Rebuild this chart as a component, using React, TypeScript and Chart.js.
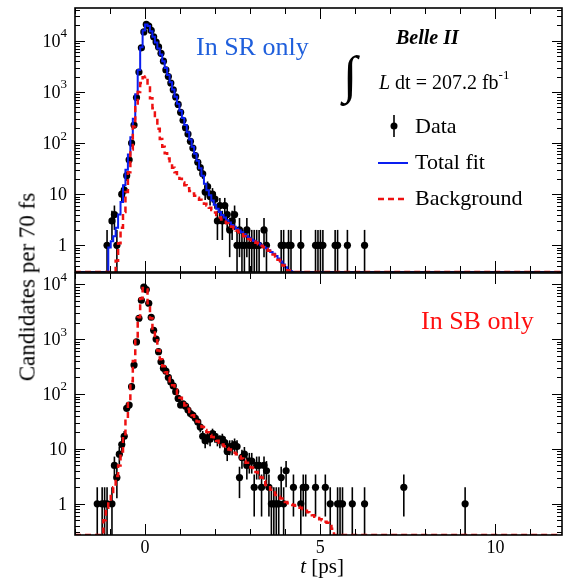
import React, { useEffect, useRef } from "react";
import { Chart, registerables } from "chart.js";
Chart.register(...registerables);

const SERIF = "'Liberation Serif', 'DejaVu Serif', serif";
const FIT_BLUE = "#0a1ef0";
const BKG_RED = "#ee1111";
const SR_BLUE = "#1f5fdc";
const SB_RED = "#ff1010";

// ---------- Signal region (top panel) ----------
const srT = [
  -1.085, -0.945, -0.875, -0.805, -0.665, -0.595, -0.525, -0.455, -0.385, -0.315, -0.245, -0.175,
  -0.105, -0.035, 0.035, 0.105, 0.175, 0.245, 0.315, 0.385, 0.455, 0.525, 0.595, 0.665, 0.735,
  0.805, 0.875, 0.945, 1.015, 1.085, 1.155, 1.225, 1.295, 1.365, 1.435, 1.505, 1.575, 1.645,
  1.715, 1.785, 1.855, 1.925, 1.995, 2.065, 2.135, 2.205, 2.275, 2.345, 2.415, 2.485, 2.555,
  2.625, 2.695, 2.765, 2.835, 2.905, 2.975, 3.045, 3.115, 3.185, 3.255, 3.395, 3.465, 3.885,
  3.955, 4.095, 4.165, 4.445, 4.865, 4.935, 5.005, 5.075, 5.425, 5.495, 5.775, 6.265,
];
const srN = [
  1, 3, 4, 1, 10, 12, 23, 47, 100, 225, 780, 2450,
  7300, 15000, 21000, 19500, 16000, 12000, 9500, 7600, 5700, 4000, 2700, 2000, 1500,
  1100, 800, 570, 400, 280, 200, 150, 108, 80, 57, 42, 33, 25,
  11, 14, 9, 10, 8, 3, 6, 3, 6, 4, 2, 3, 4,
  1, 2, 1, 1, 2, 1, 1, 1, 1, 1, 2, 1, 1,
  1, 1, 1, 1, 1, 1, 1, 1, 1, 1, 1, 1,
];
const srFitT = [
  -2, -1.155, -1.085, -1.015, -0.945, -0.875, -0.805, -0.735, -0.665, -0.595, -0.525, -0.455,
  -0.385, -0.315, -0.245, -0.175, -0.105, -0.035, 0.035, 0.105, 0.175, 0.245, 0.315, 0.385,
  0.455, 0.525, 0.595, 0.665, 0.735, 0.805, 0.875, 0.945, 1.015, 1.085, 1.155, 1.225, 1.295,
  1.365, 1.435, 1.505, 1.575, 1.645, 1.715, 1.785, 1.855, 1.925, 1.995, 2.065, 2.135, 2.205,
  2.275, 2.345, 2.415, 2.485, 2.555, 2.625, 2.695, 2.765, 2.835, 2.905, 2.975, 3.045, 3.115,
  3.185, 3.255, 3.325, 3.395, 3.465, 3.535, 3.605, 3.675, 3.745, 3.815, 3.885, 3.955, 4.025,
  4.095, 4.165, 4.235, 11.9,
];
const srTotal = [
  0.3, 0.3, 0.3, 0.9, 1.2, 1.5, 2.2, 4, 7, 15, 30, 60,
  130, 300, 900, 2700, 7500, 16000, 21000, 19500, 15500, 12000, 9300, 7100,
  5400, 4000, 2950, 2150, 1550, 1120, 810, 590, 430, 310, 225, 162, 117,
  85, 62, 45, 32, 23, 16, 12, 9.5, 7.5, 6.2, 5.2, 4.5, 3.9,
  3.5, 3.1, 2.8, 2.5, 2.3, 2.1, 1.95, 1.8, 1.65, 1.5, 1.4, 1.3, 1.22,
  1.15, 1.08, 1.0, 0.94, 0.87, 0.8, 0.74, 0.68, 0.62, 0.55, 0.48, 0.42, 0.37,
  0.33, 0.31, 0.3, 0.3,
];
const srBkg = [
  0.3, 0.3, 0.3, 0.3, 0.3, 0.3, 0.5, 1.1, 2.2, 4.5, 11, 27,
  75, 210, 500, 1000, 1500, 1950, 2000, 1300, 750, 480, 300, 190,
  120, 85, 63, 50, 40, 33, 27, 23, 20, 17, 15, 13, 11.5,
  10.3, 9.3, 8.5, 7.8, 7.1, 6.5, 6, 5.4, 4.9, 4.4, 3.9, 3.5, 3.2,
  2.9, 2.7, 2.5, 2.3, 2.1, 1.95, 1.8, 1.65, 1.5, 1.42, 1.33, 1.25, 1.18,
  1.12, 1.05, 0.98, 0.92, 0.85, 0.78, 0.72, 0.66, 0.6, 0.52, 0.46, 0.4, 0.36,
  0.32, 0.3, 0.3, 0.3,
];

// ---------- Sideband (bottom panel) ----------
const sbT = [
  -1.365, -1.225, -1.155, -1.085, -0.945, -0.875, -0.805, -0.735, -0.665, -0.595, -0.525, -0.455,
  -0.385, -0.315, -0.245, -0.175, -0.105, -0.035, 0.035, 0.105, 0.175, 0.245, 0.315, 0.385,
  0.455, 0.525, 0.595, 0.665, 0.735, 0.805, 0.875, 0.945, 1.015, 1.085, 1.155, 1.225, 1.295,
  1.365, 1.435, 1.505, 1.575, 1.645, 1.715, 1.785, 1.855, 1.925, 1.995, 2.065, 2.135, 2.205,
  2.275, 2.345, 2.415, 2.485, 2.555, 2.625, 2.695, 2.765, 2.835, 2.905, 2.975, 3.045, 3.115,
  3.185, 3.255, 3.325, 3.395, 3.465, 3.535, 3.605, 3.675, 3.745, 3.815, 3.885, 3.955, 4.025,
  4.235, 4.445, 4.515, 4.585, 4.865, 5.145, 5.285, 5.495, 5.565, 5.635, 5.915, 6.265, 7.385, 9.135,
];
const sbN = [
  1, 1, 1, 1, 1, 5, 3, 8, 12, 17, 55, 63,
  136, 337, 890, 2400, 5100, 8900, 8000, 4500, 2500, 1450, 1000, 590,
  385, 295, 260, 200, 165, 140, 110, 83, 63, 66, 60, 51, 44,
  41, 36, 31, 25, 17, 14, 16, 15, 19, 17, 15, 14, 15,
  13, 9, 11, 11, 12, 11, 3, 7, 8, 5, 6, 6, 2,
  5, 5, 2, 5, 4, 2, 1, 1, 1, 1, 3, 1, 4,
  2, 1, 2, 2, 2, 2, 1, 1, 1, 1, 1, 1, 2, 1,
];
const sbFitT = [
  -2, -1.225, -1.155, -1.085, -1.015, -0.945, -0.875, -0.805, -0.735, -0.665, -0.595, -0.525,
  -0.455, -0.385, -0.315, -0.245, -0.175, -0.105, -0.035, 0.035, 0.105, 0.175, 0.245, 0.315,
  0.385, 0.455, 0.525, 0.595, 0.665, 0.735, 0.805, 0.875, 0.945, 1.015, 1.085, 1.155, 1.225,
  1.295, 1.365, 1.435, 1.505, 1.575, 1.645, 1.715, 1.785, 1.855, 1.925, 1.995, 2.065, 2.135,
  2.205, 2.275, 2.345, 2.415, 2.485, 2.555, 2.625, 2.695, 2.765, 2.835, 2.905, 2.975, 3.045,
  3.115, 3.185, 3.255, 3.325, 3.395, 3.465, 3.535, 3.605, 3.675, 3.745, 3.815, 3.885, 3.955,
  4.025, 4.095, 4.165, 4.235, 4.305, 4.375, 4.445, 4.515, 4.585, 4.655, 4.725, 4.795, 4.865,
  4.935, 5.005, 5.075, 5.145, 5.215, 5.285, 5.355, 5.425, 11.9,
];
const sbFit = [
  0.27, 0.27, 0.5, 0.85, 1.1, 1.5, 2.0, 3.2, 5, 9, 17, 35,
  75, 170, 400, 1000, 2500, 5500, 8500, 8000, 4500, 2400, 1450, 950,
  620, 430, 320, 250, 205, 170, 145, 120, 100, 85, 72, 62, 54,
  47, 41, 36, 31.5, 28, 25, 22, 20, 18, 16.5, 15, 14, 13,
  12, 11.2, 10.4, 9.7, 9, 8.5, 8, 7.3, 6.7, 6.1, 5.6, 5.1, 4.6,
  4.2, 3.8, 3.4, 3.0, 2.6, 2.2, 2.0, 1.8, 1.6, 1.45, 1.35, 1.25, 1.15,
  1.08, 1.02, 0.98, 0.95, 0.92, 0.88, 0.85, 0.8, 0.75, 0.7, 0.66, 0.62, 0.58,
  0.55, 0.52, 0.5, 0.47, 0.45, 0.43, 0.35, 0.27, 0.27,
];

// ---------- Axes ----------
const X_MIN = -2;
const X_MAX = 11.9;
const TOP_Y = [0.3, 44000];
const BOT_Y = [0.27, 16000];
const xTickValues = [-2, -1, 0, 1, 2, 3, 4, 5, 6, 7, 8, 9, 10, 11];
const xTickLabels = ["0", "5", "10"];
const xLabelValues = [0, 5, 10];
const yDecades = [0.1, 1, 10, 100, 1000, 10000];
const yLabelValues = [1, 10, 100, 1000, 10000];
const yLabelBase = ["1", "10", "10", "10", "10"];
const yLabelExp = ["", "", "2", "3", "4"];

const BOT_CANVAS_TOP = 262;

function pts(xs: number[], ys: number[]) {
  return xs.map((x, i) => ({ x, y: ys[i] }));
}

function drawErrorBars(chart: any) {
  const ctx = chart.ctx;
  const area = chart.chartArea;
  const ys = chart.scales.y;
  chart.data.datasets.forEach((ds: any, di: number) => {
    if (ds.label !== "Data") return;
    const meta = chart.getDatasetMeta(di);
    ctx.save();
    ctx.strokeStyle = "#000";
    ctx.lineWidth = 1.6;
    meta.data.forEach((el: any, i: number) => {
      const v = ds.data[i].y;
      const e = Math.sqrt(v);
      const hi = Math.min(area.bottom, Math.max(area.top, ys.getPixelForValue(v + e)));
      const lo = v - e > ys.min ? ys.getPixelForValue(v - e) : area.bottom;
      ctx.beginPath();
      ctx.moveTo(el.x, hi);
      ctx.lineTo(el.x, lo);
      ctx.stroke();
    });
    ctx.restore();
  });
}

function drawFrame(chart: any, showX: boolean) {
  const ctx = chart.ctx;
  const a = chart.chartArea;
  const xs = chart.scales.x;
  const ys = chart.scales.y;
  ctx.save();
  ctx.strokeStyle = "#000";
  ctx.lineWidth = 1;
  yDecades.forEach((d) => {
    for (let m = 1; m <= 9; m++) {
      const v = d * m;
      if (v < ys.min || v > ys.max) continue;
      const py = Math.round(ys.getPixelForValue(v)) + 0.5;
      const len = m === 1 ? 10 : 5;
      ctx.beginPath();
      ctx.moveTo(a.left, py);
      ctx.lineTo(a.left + len, py);
      ctx.moveTo(a.right, py);
      ctx.lineTo(a.right - len, py);
      ctx.stroke();
    }
  });
  xTickValues.forEach((v) => {
    const px = Math.round(xs.getPixelForValue(v)) + 0.5;
    const len = v % 5 === 0 ? 11 : 6;
    ctx.beginPath();
    ctx.moveTo(px, a.top);
    ctx.lineTo(px, a.top + len);
    ctx.moveTo(px, a.bottom);
    ctx.lineTo(px, a.bottom - len);
    ctx.stroke();
  });
  ctx.lineWidth = 1.6;
  ctx.strokeRect(a.left, a.top, a.right - a.left, a.bottom - a.top);

  ctx.fillStyle = "#000";
  ctx.textBaseline = "middle";
  yLabelValues.forEach((v, i) => {
    if (v < ys.min || v > ys.max) return;
    const py = ys.getPixelForValue(v);
    const right = a.left - 8;
    ctx.font = `13px ${SERIF}`;
    const ew = yLabelExp[i] ? ctx.measureText(yLabelExp[i]).width : 0;
    ctx.textAlign = "left";
    if (yLabelExp[i]) ctx.fillText(yLabelExp[i], right - ew, py - 7);
    ctx.font = `18px ${SERIF}`;
    ctx.textAlign = "right";
    ctx.fillText(yLabelBase[i], right - ew, py + 1);
  });

  if (showX) {
    ctx.font = `18px ${SERIF}`;
    ctx.textAlign = "center";
    xLabelValues.forEach((v, i) => {
      ctx.fillText(xTickLabels[i], xs.getPixelForValue(v), a.bottom + 13);
    });
    ctx.textAlign = "left";
    ctx.font = `italic 21px ${SERIF}`;
    const tw = ctx.measureText("t").width;
    ctx.font = `21px ${SERIF}`;
    const rw = ctx.measureText(" [ps]").width;
    const x0 = 322 - (tw + rw) / 2;
    ctx.font = `italic 21px ${SERIF}`;
    ctx.fillText("t", x0, a.bottom + 32);
    ctx.font = `21px ${SERIF}`;
    ctx.fillText(" [ps]", x0 + tw, a.bottom + 32);
  }
  ctx.restore();
}

function drawTopText(chart: any) {
  const ctx = chart.ctx;
  ctx.save();
  ctx.textBaseline = "middle";
  ctx.textAlign = "left";
  ctx.fillStyle = SR_BLUE;
  ctx.font = `26px ${SERIF}`;
  ctx.fillText("In SR only", 196, 48);

  ctx.fillStyle = "#000";
  ctx.font = `italic bold 20px ${SERIF}`;
  ctx.fillText("Belle II", 396, 39);
  ctx.font = `italic 52px ${SERIF}`;
  ctx.fillText("\u222B", 343, 78);
  ctx.font = `italic 20px ${SERIF}`;
  ctx.fillText("L", 379, 84);
  let x = 379 + ctx.measureText("L").width;
  ctx.font = `20px ${SERIF}`;
  ctx.fillText(" dt = 207.2 fb", x, 84);
  x += ctx.measureText(" dt = 207.2 fb").width;
  ctx.font = `13px ${SERIF}`;
  ctx.fillText("-1", x, 76);

  ctx.strokeStyle = "#000";
  ctx.lineWidth = 1.6;
  ctx.beginPath();
  ctx.moveTo(394, 115);
  ctx.lineTo(394, 137);
  ctx.stroke();
  ctx.beginPath();
  ctx.arc(394, 126, 3.5, 0, Math.PI * 2);
  ctx.fill();
  ctx.font = `22px ${SERIF}`;
  ctx.fillText("Data", 415, 127);

  ctx.strokeStyle = FIT_BLUE;
  ctx.lineWidth = 2;
  ctx.beginPath();
  ctx.moveTo(378, 163);
  ctx.lineTo(408, 163);
  ctx.stroke();
  ctx.fillText("Total fit", 415, 163);

  ctx.strokeStyle = BKG_RED;
  ctx.lineWidth = 2.5;
  ctx.setLineDash([6, 4]);
  ctx.beginPath();
  ctx.moveTo(378, 199);
  ctx.lineTo(406, 199);
  ctx.stroke();
  ctx.setLineDash([]);
  ctx.fillText("Background", 415, 199);
  ctx.restore();
}

function drawBottomText(chart: any) {
  const ctx = chart.ctx;
  ctx.save();
  ctx.textBaseline = "middle";
  ctx.textAlign = "left";
  ctx.fillStyle = SB_RED;
  ctx.font = `26px ${SERIF}`;
  ctx.fillText("In SB only", 421, 322 - BOT_CANVAS_TOP);
  ctx.restore();
}

function makeConfig(datasets: any[], yRange: number[], padding: any, showX: boolean, text: (c: any) => void) {
  return {
    type: "line",
    data: { datasets },
    options: {
      animation: false,
      responsive: false,
      devicePixelRatio: 1,
      events: [],
      layout: { padding },
      plugins: { legend: { display: false }, tooltip: { enabled: false } },
      scales: {
        x: { type: "linear", min: X_MIN, max: X_MAX, display: false },
        y: { type: "logarithmic", min: yRange[0], max: yRange[1], display: false },
      },
    },
    plugins: [
      {
        id: "panelDecor",
        beforeDatasetsDraw: (c: any) => drawErrorBars(c),
        afterDraw: (c: any) => {
          drawFrame(c, showX);
          text(c);
        },
      },
    ],
  } as any;
}

function dataSet(xs: number[], ys: number[]) {
  return {
    label: "Data",
    data: pts(xs, ys),
    showLine: false,
    pointRadius: 3.6,
    pointBackgroundColor: "#000",
    pointBorderColor: "#000",
    pointBorderWidth: 0,
    order: 2,
  };
}

export default function App() {
  const topRef = useRef<HTMLCanvasElement>(null);
  const botRef = useRef<HTMLCanvasElement>(null);

  useEffect(() => {
    const top = new Chart(
      topRef.current as HTMLCanvasElement,
      makeConfig(
        [
          dataSet(srT, srN),
          {
            label: "Total fit",
            data: pts(srFitT, srTotal),
            borderColor: FIT_BLUE,
            borderWidth: 2,
            stepped: "middle",
            pointRadius: 0,
            fill: false,
            order: 1,
          },
          {
            label: "Background",
            data: pts(srFitT, srBkg),
            borderColor: BKG_RED,
            borderWidth: 2.5,
            borderDash: [6, 4],
            stepped: "middle",
            pointRadius: 0,
            fill: false,
            order: 0,
          },
        ],
        TOP_Y,
        { left: 75, right: 2, top: 8, bottom: 4 },
        false,
        drawTopText
      )
    );
    const bot = new Chart(
      botRef.current as HTMLCanvasElement,
      makeConfig(
        [
          dataSet(sbT, sbN),
          {
            label: "Fit",
            data: pts(sbFitT, sbFit),
            borderColor: BKG_RED,
            borderWidth: 2.5,
            borderDash: [6, 4],
            stepped: "middle",
            pointRadius: 0,
            fill: false,
            order: 0,
          },
        ],
        BOT_Y,
        { left: 75, right: 2, top: 11, bottom: 44 },
        true,
        drawBottomText
      )
    );
    return () => {
      top.destroy();
      bot.destroy();
    };
  }, []);

  return (
    <div
      style={{
        position: "absolute",
        left: 0,
        top: 0,
        width: 566,
        height: 579,
        overflow: "hidden",
        background: "#fff",
      }}
    >
      <canvas ref={topRef} width={566} height={276} style={{ position: "absolute", left: 0, top: 0 }} />
      <canvas
        ref={botRef}
        width={566}
        height={317}
        style={{ position: "absolute", left: 0, top: BOT_CANVAS_TOP }}
      />
      <div
        style={{
          position: "absolute",
          left: 27,
          top: 287,
          transform: "translate(-50%, -50%) rotate(-90deg)",
          whiteSpace: "nowrap",
          fontFamily: SERIF,
          fontSize: 23,
          lineHeight: 1,
          color: "#000",
        }}
      >
        Candidates per 70 fs
      </div>
    </div>
  );
}
